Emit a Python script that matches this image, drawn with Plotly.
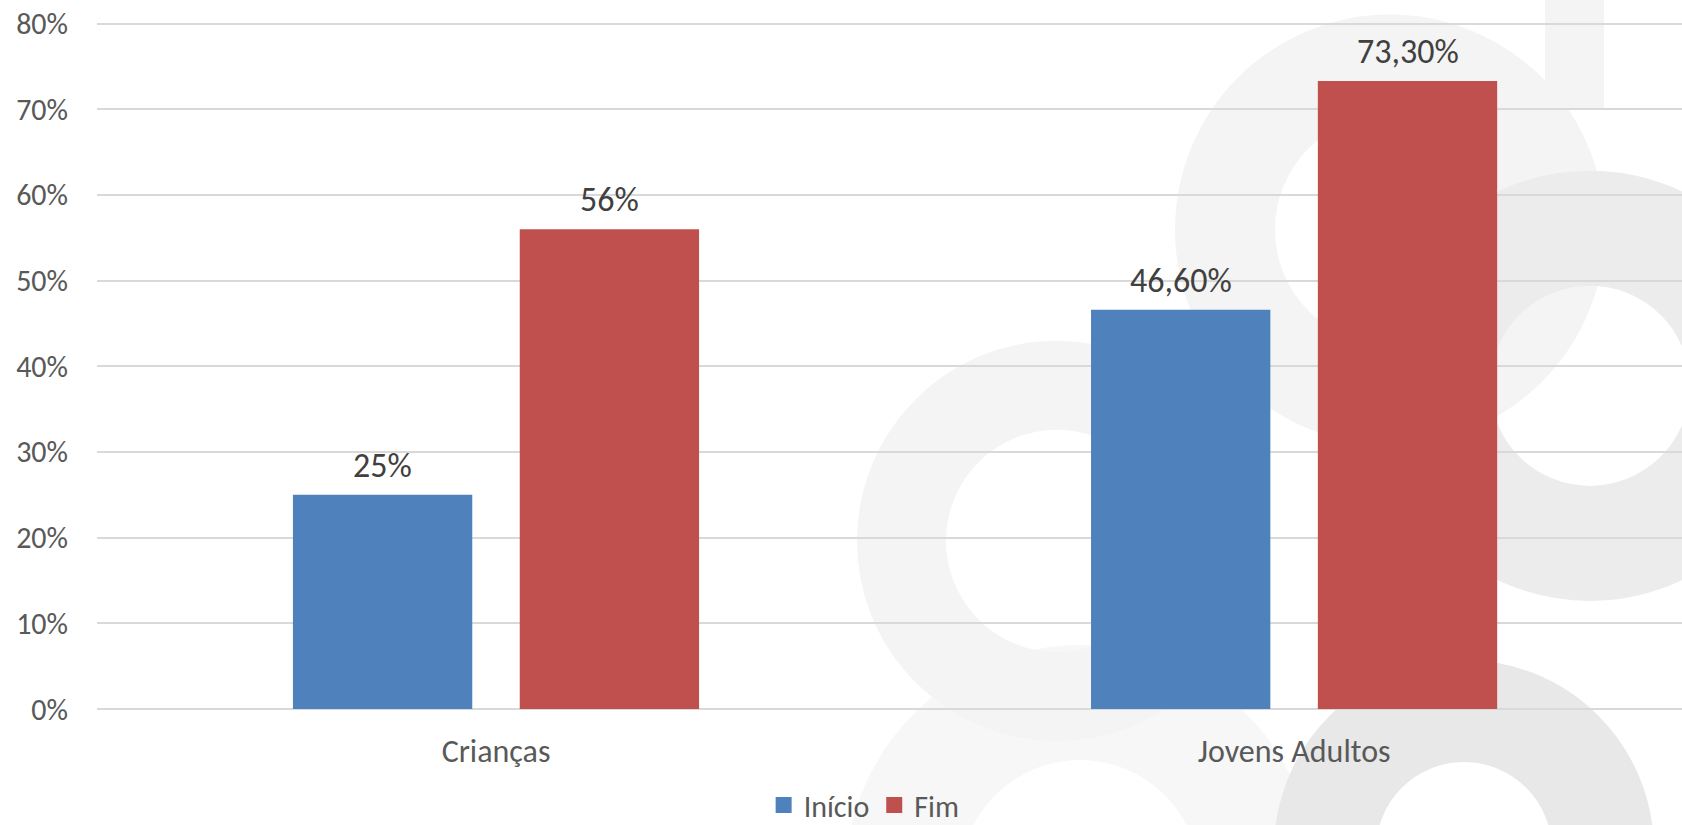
import plotly.graph_objects as go

# ---- data ----
categories = ["Crianças", "Jovens Adultos"]
inicio = [25, 46.6]
fim = [56, 73.3]
labels_inicio = ["25%", "46,60%"]
labels_fim = ["56%", "73,30%"]
series_names = ["Início", "Fim"]
y_ticks = [0, 10, 20, 30, 40, 50, 60, 70, 80]
y_tick_labels = ["0%", "10%", "20%", "30%", "40%", "50%", "60%", "70%", "80%"]

# ---- style ----
FONT = "Carlito, Calibri, Lato, sans-serif"
BLUE = "#4F81BD"
RED = "#C0504D"
BAR_W = 0.2247
OFFSETS = [-0.2545, 0.0297]

PAGE_OFF = 0  # page body margin removed via post_script
W, H = 1682, 825
Y_MAX_TICK, Y_TOP = 80, 81
ZERO_PAGE_Y, TOP_TICK_PAGE_Y = 709, 24
PX_PER_UNIT = (ZERO_PAGE_Y - TOP_TICK_PAGE_Y) / Y_MAX_TICK
plot_top_page = TOP_TICK_PAGE_Y - (Y_TOP - Y_MAX_TICK) * PX_PER_UNIT
ML, MR = 97 - PAGE_OFF, 0
MT = plot_top_page - PAGE_OFF
MB = H - (ZERO_PAGE_Y - PAGE_OFF)
PW, PH = W - ML - MR, H - MT - MB

fig = go.Figure()
for name, vals, txt, color, off in [
    (series_names[0], inicio, labels_inicio, BLUE, OFFSETS[0]),
    (series_names[1], fim, labels_fim, RED, OFFSETS[1]),
]:
    fig.add_trace(go.Bar(
        name=name, x=categories, y=vals, width=BAR_W, offset=off,
        marker=dict(color=color, line=dict(width=0)),
        hoverinfo="skip", showlegend=False,
    ))
    # legend entry with a larger square symbol
    fig.add_trace(go.Scatter(
        name=name, x=[None], y=[None], mode="markers",
        marker=dict(symbol="square", size=18, color=color),
        showlegend=True, hoverinfo="skip",
    ))
    for j, (v, t) in enumerate(zip(vals, txt)):
        fig.add_annotation(
            x=j + off + BAR_W / 2, y=v, xref="x", yref="y",
            text=t, showarrow=False, yanchor="bottom", yshift=7,
            font=dict(family=FONT, size=34, color="#404040"),
        )

# ---- background watermark (decorative rings), page pixel coords ----
def px2paper(px, py):
    return (px - PAGE_OFF - ML) / PW, (H - MB - (py - PAGE_OFF)) / PH

def ring(cx, cy, r_out, r_in, color):
    rm = (r_out + r_in) / 2
    x0, y0 = px2paper(cx - rm, cy + rm)
    x1, y1 = px2paper(cx + rm, cy - rm)
    return dict(type="circle", xref="paper", yref="paper", x0=x0, y0=y0, x1=x1, y1=y1,
                line=dict(color=color, width=r_out - r_in), fillcolor="rgba(0,0,0,0)",
                layer="below")

def rect(xa, ya, xb, yb, color):
    x0, y0 = px2paper(xa, yb)
    x1, y1 = px2paper(xb, ya)
    return dict(type="rect", xref="paper", yref="paper", x0=x0, y0=y0, x1=x1, y1=y1,
                line=dict(width=0), fillcolor=color, layer="below")

shapes = [
    ring(1080, 880, 235, 120, "#F7F7F7"),
    ring(1057, 541, 200, 111, "#F4F4F4"),
    ring(1390, 230, 215, 115, "#F4F4F4"),
    rect(1545, 0, 1604, 110, "#F4F4F4"),
    ring(1590, 386, 215, 100, "#ECECEC"),
    ring(1464, 850, 190, 88, "#E8E8E8"),
]

legend_y = (H - MB - (805 - PAGE_OFF)) / PH

fig.update_layout(
    width=W, height=H, autosize=False,
    margin=dict(l=ML, r=MR, t=MT, b=MB, autoexpand=False),
    paper_bgcolor="white", plot_bgcolor="rgba(0,0,0,0)",
    barmode="overlay",
    font=dict(family=FONT, size=30, color="#595959"),
    shapes=shapes,
    showlegend=True,
    legend=dict(orientation="h", x=0.484, xanchor="center", y=legend_y, yanchor="middle",
                font=dict(family=FONT, size=30, color="#595959"),
                bgcolor="rgba(0,0,0,0)", itemwidth=30, tracegroupgap=0),
    xaxis=dict(type="category", range=[-0.5, 1.486], showgrid=False, zeroline=False,
               showline=False, ticks="outside", ticklen=14, tickcolor="rgba(0,0,0,0)",
               tickfont=dict(family=FONT, size=32, color="#595959"), fixedrange=True),
    yaxis=dict(range=[0, Y_TOP], tickvals=y_ticks, ticktext=y_tick_labels,
               showgrid=True, gridcolor="#D9D9D9", gridwidth=1.5,
               zeroline=True, zerolinecolor="#D9D9D9", zerolinewidth=1.5,
               showline=False, ticks="", ticklabelstandoff=28, ticklabeloverflow="allow",
               tickfont=dict(family=FONT, size=30, color="#595959"), fixedrange=True),
)

fig.write_html(
    "out.html",
    config={"displayModeBar": False},
    post_script="document.body.style.margin='0';document.body.style.overflow='hidden';",
)
